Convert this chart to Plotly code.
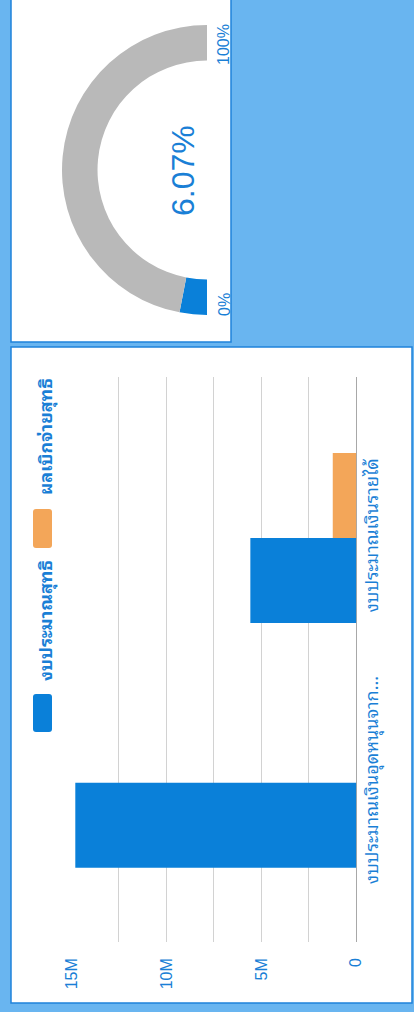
import plotly.graph_objects as go

# ---------------- data ----------------
categories = ["งบประมาณเงินอุดหนุนจาก...", "งบประมาณเงินรายได้"]
series_names = ["งบประมาณสุทธิ", "ผลเบิกจ่ายสุทธิ"]
net_budget = [14.8e6, 5.58e6]
net_disbursed = [0, 1.24e6]
tick_vals = [0, 5e6, 10e6, 15e6]
tick_text = ["0", "5M", "10M", "15M"]
gauge_pct = 6.07
gauge_label = "6.07%"
gauge_min_label = "0%"
gauge_max_label = "100%"

# ---------------- style ----------------
W, H = 414, 1012
BG = "#69b5f0"
BORDER = "#1f82da"
BLUE = "#0a80d9"
ORANGE = "#f3a659"
GREY = "#b9b9b9"
TXT = "#1a7fd6"
GRID = "#d2d2d2"
FONT = "Noto Sans Thai Looped, Tahoma, Noto Sans Thai, Noto Sans, Liberation Sans, sans-serif"
NUMFONT = "Liberation Sans, Arial, sans-serif"


def px(x):
    return x / W


def py(y):
    return 1 - y / H


def rounded_rect(x0, y0, x1, y1, r):
    # path in paper coordinates from pixel box (x0<x1, y0<y1 in screen px)
    pts = [
        f"M {px(x0 + r)},{py(y0)}",
        f"L {px(x1 - r)},{py(y0)}",
        f"Q {px(x1)},{py(y0)} {px(x1)},{py(y0 + r)}",
        f"L {px(x1)},{py(y1 - r)}",
        f"Q {px(x1)},{py(y1)} {px(x1 - r)},{py(y1)}",
        f"L {px(x0 + r)},{py(y1)}",
        f"Q {px(x0)},{py(y1)} {px(x0)},{py(y1 - r)}",
        f"L {px(x0)},{py(y0 + r)}",
        f"Q {px(x0)},{py(y0)} {px(x0 + r)},{py(y0)}",
        "Z",
    ]
    return " ".join(pts)


fig = go.Figure()

for name, vals, col in [(series_names[0], net_budget, BLUE),
                        (series_names[1], net_disbursed, ORANGE)]:
    fig.add_trace(go.Bar(
        y=categories, x=vals, name=name, orientation="h",
        marker=dict(color=col, line=dict(width=0)),
        showlegend=False, hoverinfo="skip",
    ))

# gauge (half donut, rotated)
fig.add_trace(go.Pie(
    values=[gauge_pct, 100 - gauge_pct, 100],
    marker=dict(colors=[BLUE, GREY, "rgba(0,0,0,0)"], line=dict(width=0)),
    hole=0.755, sort=False, direction="clockwise", rotation=180,
    textinfo="none", hoverinfo="skip", showlegend=False, automargin=False,
    domain=dict(x=[px(207 - 145), px(207 + 145)], y=[py(170 + 145), py(170 - 145)]),
))

shapes = [
    # top panel
    dict(type="rect", xref="paper", yref="paper", x0=px(11), x1=px(231), y0=py(342), y1=py(-5),
         fillcolor="white", line=dict(color=BORDER, width=1.5), layer="below"),
    # bottom panel
    dict(type="rect", xref="paper", yref="paper", x0=px(11), x1=px(412), y0=py(1003), y1=py(347),
         fillcolor="white", line=dict(color=BORDER, width=1.5), layer="below"),
    # legend swatches
    dict(type="path", xref="paper", yref="paper", path=rounded_rect(33, 694, 52, 732, 3),
         fillcolor=BLUE, line=dict(width=0), layer="above"),
    dict(type="path", xref="paper", yref="paper", path=rounded_rect(33, 509, 52, 548, 3),
         fillcolor=ORANGE, line=dict(width=0), layer="above"),
]


def ann(text, x, y, size, family):
    return dict(text=text, x=px(x), y=py(y), xref="paper", yref="paper",
                xanchor="center", yanchor="middle", textangle=-90, showarrow=False,
                font=dict(family=family, size=size, color=TXT))


annotations = [
    ann("<b>" + series_names[0] + "</b>", 44, 621, 18, FONT),
    ann("<b>" + series_names[1] + "</b>", 44, 437, 18, FONT),
    ann(gauge_label, 183, 171, 32, NUMFONT),
    ann(gauge_min_label, 224, 304, 16, NUMFONT),
    ann(gauge_max_label, 224, 44, 16, NUMFONT),
]

fig.update_layout(
    template="none",
    width=W, height=H, autosize=False,
    margin=dict(l=0, r=0, t=0, b=0, pad=0, autoexpand=False),
    paper_bgcolor=BG, plot_bgcolor="rgba(0,0,0,0)",
    barmode="group", bargap=0.305, bargroupgap=0,
    shapes=shapes, annotations=annotations,
    xaxis=dict(
        domain=[px(71.5), px(356.3)], range=[15e6, 0], automargin=False,
        tickvals=tick_vals, ticktext=tick_text, tickangle=-90,
        tickfont=dict(family=NUMFONT, size=16, color=TXT),
        showgrid=True, gridcolor=GRID, gridwidth=1,
        minor=dict(dtick=2.5e6, tick0=0, showgrid=True, gridcolor=GRID, gridwidth=1),
        zeroline=True, zerolinecolor="#a8a8a8", zerolinewidth=1,
        showline=False, ticks="", ticklabelstandoff=12, fixedrange=True,
    ),
    yaxis=dict(
        domain=[py(942), py(377)], type="category", range=[-0.651, 1.658], automargin=False,
        side="right", tickangle=-90, showgrid=False, zeroline=False, showline=False,
        tickfont=dict(family=FONT, size=18, color=TXT), ticks="", ticklabelstandoff=3,
        fixedrange=True,
    ),
)

fig.write_html(
    "out.html",
    config={"displayModeBar": False, "responsive": False},
    post_script="document.body.style.margin='0px';document.body.style.overflow='hidden';",
)
